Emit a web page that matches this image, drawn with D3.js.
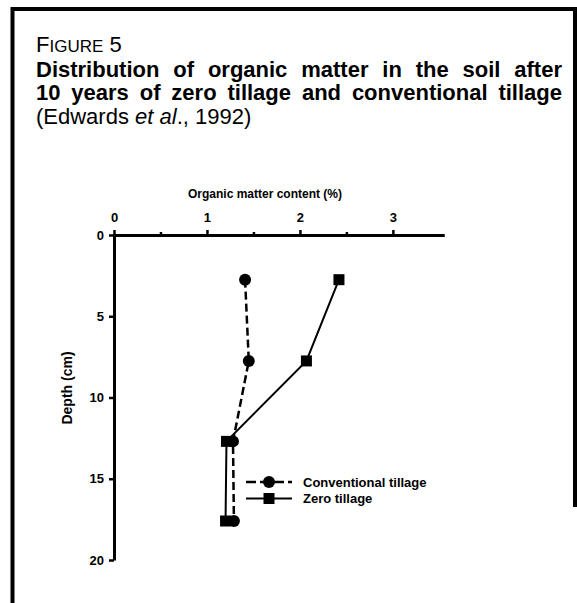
<!DOCTYPE html>
<html>
<head>
<meta charset="utf-8">
<script src="https://cdn.jsdelivr.net/npm/d3@7"></script>
<style>
  body { margin: 0; background: #fff; }
  text { font-family: "Liberation Sans", Arial, sans-serif; fill: #000; }
</style>
</head>
<body>
<div id="chart"></div>
<script>
// Data
var depth = [2.75, 7.75, 12.7, 17.6];
var conventional = [1.41, 1.45, 1.28, 1.29];
var zeroTillage = [2.42, 2.07, 1.21, 1.20];
var xTicks = [0, 1, 2, 3];
var xMinorTicks = [0.5, 1.5, 2.5];
var yTicks = [0, 5, 10, 15, 20];
var seriesNames = ['Conventional tillage', 'Zero tillage'];
var titleLines = [
  'Distribution of organic matter in the soil after',
  '10 years of zero tillage and conventional tillage'
];

var W = 577, H = 603;
var svg = d3.select('#chart').append('svg')
  .attr('width', W)
  .attr('height', H);

// Frame (open at the bottom)
svg.append('path')
  .attr('d', 'M12.5,603 L12.5,9 L575,9 L575,507')
  .attr('fill', 'none')
  .attr('stroke', '#000')
  .attr('stroke-width', 4);

// Caption: "FIGURE 5" in small caps
var fig = svg.append('text')
  .attr('x', 36)
  .attr('y', 52)
  .style('font-size', '22px');
fig.append('tspan').text('F');
fig.append('tspan').style('font-size', '17px').text('IGURE');
fig.append('tspan').text(' 5');

// Justified bold title lines
var left = 36, right = 562;
titleLines.forEach(function(line, i) {
  var g = svg.append('g');
  var words = line.split(' ');
  var nodes = words.map(function(w) {
    return g.append('text')
      .attr('y', 76.5 + i * 23.5)
      .style('font-size', '22px')
      .style('font-weight', 'bold')
      .text(w);
  });
  var widths = nodes.map(function(n) { return n.node().getComputedTextLength(); });
  var gap = (right - left - d3.sum(widths)) / (words.length - 1);
  var x = left;
  nodes.forEach(function(n, k) {
    n.attr('x', x);
    x += widths[k] + gap;
  });
});

var cite = svg.append('text')
  .attr('x', 36)
  .attr('y', 123.5)
  .style('font-size', '22px');
cite.append('tspan').text('(Edwards ');
cite.append('tspan').style('font-style', 'italic').text('et al');
cite.append('tspan').text('., 1992)');

// Scales
var x = d3.scaleLinear().domain([0, 3.55]).range([114, 444]);
var y = d3.scaleLinear().domain([0, 20]).range([235, 560]);

// X axis on top
var xAxis = svg.append('g')
  .attr('transform', 'translate(0,' + y(0) + ')')
  .call(d3.axisTop(x).tickValues(xTicks).tickSize(5).tickSizeOuter(0).tickPadding(8).tickFormat(d3.format('d')));
xAxis.append('g')
  .call(d3.axisTop(x).tickValues(xMinorTicks).tickSize(3).tickSizeOuter(0).tickFormat(''));

// Y axis on left
var yAxis = svg.append('g')
  .attr('transform', 'translate(' + x(0) + ',0)')
  .call(d3.axisLeft(y).tickValues(yTicks).tickSize(5).tickSizeOuter(0).tickPadding(5).tickFormat(d3.format('d')));

svg.selectAll('.domain').attr('stroke', '#000').attr('stroke-width', 3);
svg.selectAll('.tick line').attr('stroke', '#000').attr('stroke-width', 2.5);
svg.selectAll('.tick text')
  .attr('fill', '#000')
  .style('font-family', '"Liberation Sans", Arial, sans-serif')
  .style('font-size', '13px')
  .style('font-weight', 'bold');
xAxis.selectAll('.tick text').attr('dy', '0');

// Axis titles
svg.append('text')
  .attr('x', 265)
  .attr('y', 198)
  .attr('text-anchor', 'middle')
  .style('font-size', '12px')
  .style('font-weight', 'bold')
  .text('Organic matter content (%)');

svg.append('text')
  .attr('transform', 'translate(72,388) rotate(-90)')
  .attr('text-anchor', 'middle')
  .style('font-size', '14px')
  .style('font-weight', 'bold')
  .text('Depth (cm)');

// Series
var convData = depth.map(function(d, i) { return {v: conventional[i], d: d}; });
var zeroData = depth.map(function(d, i) { return {v: zeroTillage[i], d: d}; });

var line = d3.line()
  .x(function(p) { return x(p.v); })
  .y(function(p) { return y(p.d); });

svg.append('path')
  .datum(zeroData)
  .attr('d', line)
  .attr('fill', 'none')
  .attr('stroke', '#000')
  .attr('stroke-width', 2);

svg.append('path')
  .datum(convData)
  .attr('d', line)
  .attr('fill', 'none')
  .attr('stroke', '#000')
  .attr('stroke-width', 2.5)
  .attr('stroke-dasharray', '8,4');

svg.selectAll('.sq')
  .data(zeroData)
  .enter().append('rect')
    .attr('x', function(p) { return x(p.v) - 5.5; })
    .attr('y', function(p) { return y(p.d) - 5.5; })
    .attr('width', 11)
    .attr('height', 11)
    .attr('fill', '#000');

svg.selectAll('.dot')
  .data(convData)
  .enter().append('circle')
    .attr('cx', function(p) { return x(p.v); })
    .attr('cy', function(p) { return y(p.d); })
    .attr('r', 6)
    .attr('fill', '#000');

// Legend
var legend = svg.append('g').attr('transform', 'translate(246,482)');
legend.append('line')
  .attr('x1', 0).attr('x2', 46).attr('y1', 0).attr('y2', 0)
  .attr('stroke', '#000').attr('stroke-width', 2.5).attr('stroke-dasharray', '10,4');
legend.append('circle').attr('cx', 23).attr('cy', 0).attr('r', 6).attr('fill', '#000');
legend.append('line')
  .attr('x1', 0).attr('x2', 46).attr('y1', 16.5).attr('y2', 16.5)
  .attr('stroke', '#000').attr('stroke-width', 2);
legend.append('rect').attr('x', 17.5).attr('y', 11).attr('width', 11).attr('height', 11).attr('fill', '#000');
legend.selectAll('.lt')
  .data(seriesNames)
  .enter().append('text')
    .attr('x', 57)
    .attr('y', function(d, i) { return 5 + i * 16; })
    .style('font-size', '13px')
    .style('font-weight', 'bold')
    .text(function(d) { return d; });
</script>
</body>
</html>
